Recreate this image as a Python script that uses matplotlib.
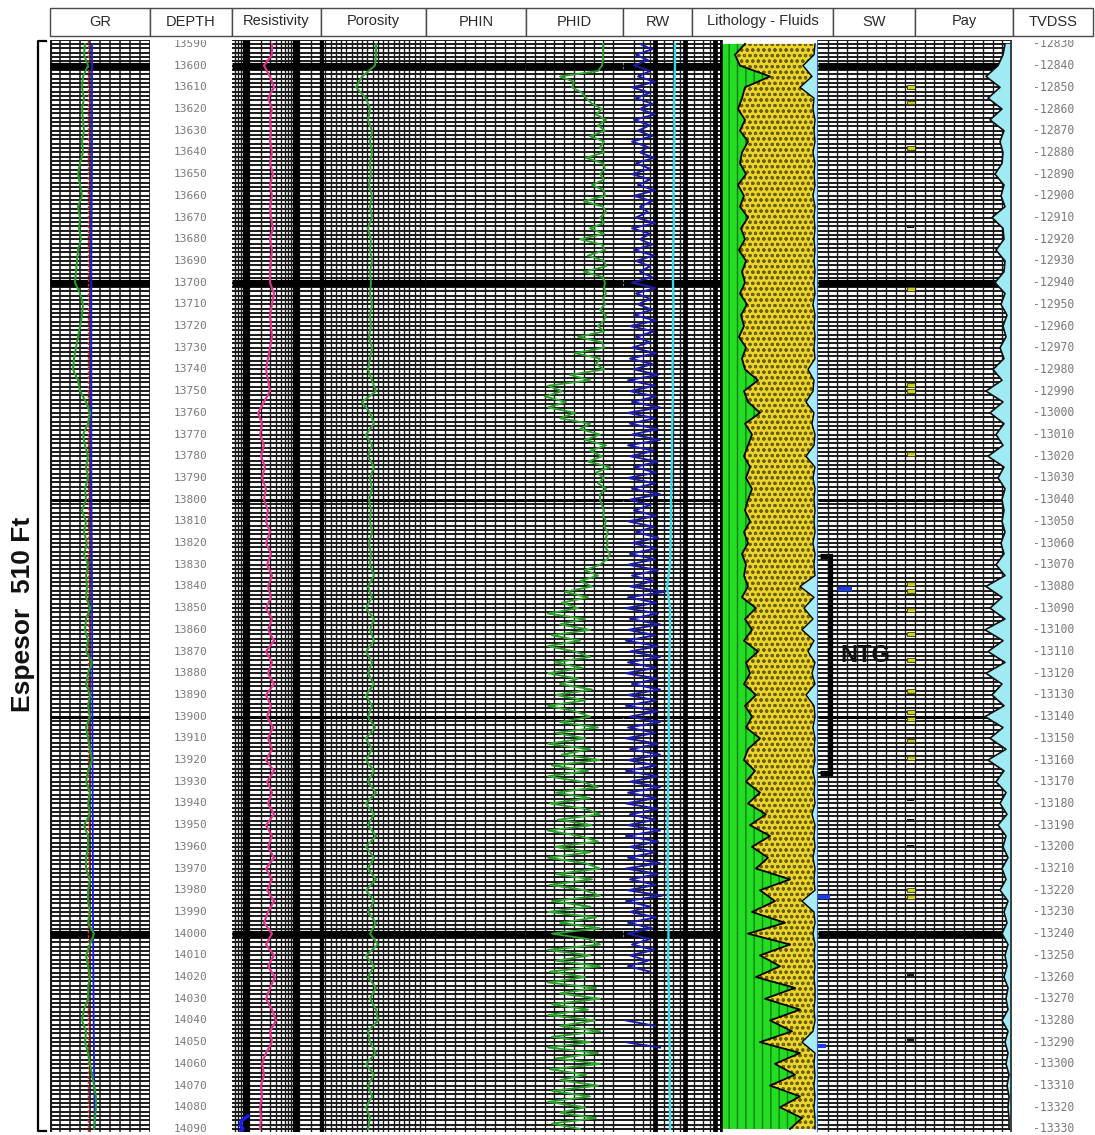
import numpy as np
import matplotlib
matplotlib.use("Agg")
import matplotlib.pyplot as plt
from matplotlib.patches import Rectangle
from matplotlib.lines import Line2D
from matplotlib.ticker import NullLocator

# ------------------------------------------------------------------ data
depth5 = np.arange(13590, 14090.1, 5.0)      # 101 samples
depth25 = np.arange(13590, 14090.1, 2.5)     # 201 samples
depth10 = np.arange(13590, 14090.1, 10.0)    # 51 samples
depth50 = np.arange(13590, 14090.1, 50.0)    # 11 samples

track_titles = ["GR", "DEPTH", "Resistivity", "Porosity", "PHIN", "PHID", "RW",
                "Lithology - Fluids", "SW", "Pay", "TVDSS"]
depth_labels = list(range(13590, 14091, 10))
tvdss_labels = list(range(-12830, -13331, -10))

gr = [52.5, 51, 57, 49.5, 48, 51, 48, 49.5, 51, 48, 49.5,
      45, 42, 45, 48, 42, 45, 43.5, 46.5, 42, 40.5, 39,
      37.5, 45, 49.5, 48, 45, 42, 39, 36, 34.5, 42, 45,
      54, 60, 57, 49.5, 52.5, 57, 54, 57, 52.5, 54, 48,
      54, 51, 55.5, 51, 57, 54, 55.5, 54, 60, 54, 52.5,
      57, 54, 63, 57, 54, 60, 57, 60, 54, 57, 60,
      63, 57, 54, 60, 57, 60, 51, 57, 57, 54, 54,
      60, 57, 57, 60, 57, 66, 60, 54, 57, 60, 57,
      57, 51, 48, 54, 52.5, 57, 60, 63, 66, 69, 69,
      67.5, 66]
gr_baseline = [63, 63, 62, 62, 62, 63, 63.5, 64, 64.5, 65.5, 67]
gr_cutoff = 57

resistivity = [3.31, 3.31, 2.29, 3.02, 3.63, 2.75, 3.31, 3.02, 3.16, 3.02, 3.31,
               3.02, 3.47, 3.02, 3.31, 3.02, 3.16, 3.47, 3.02, 3.31, 3.16, 3.02,
               3.02, 3.63, 3.31, 3.02, 3.16, 3.31, 3.02, 2.75, 2.51, 2.75, 3.02,
               2.29, 1.74, 2.09, 1.91, 2.29, 2.00, 2.40, 2.09, 2.51, 2.29, 2.75,
               2.51, 3.02, 2.51, 3.16, 2.63, 3.31, 2.75, 3.16, 2.51, 3.31, 2.75,
               3.63, 2.51, 3.31, 2.75, 3.63, 2.51, 3.16, 2.63, 3.47, 2.75, 3.31,
               2.51, 3.63, 2.63, 3.31, 2.75, 3.63, 2.51, 3.31, 2.75, 3.63, 2.51,
               3.31, 2.63, 3.63, 2.75, 2.29, 3.31, 2.51, 3.63, 2.75, 3.80, 3.02,
               2.51, 3.31, 3.98, 3.02, 3.31, 2.51, 2.09, 2.29, 2.00, 2.09, 1.91,
               2.00, 1.91]
res_aux_depth = [14084, 14086, 14088, 14090, 14091]
res_aux = [1.10, 0.83, 0.76, 0.87, 0.79]

porosity = [0.196, 0.196, 0.20, 0.252, 0.276, 0.236, 0.22, 0.228, 0.212, 0.22, 0.212,
            0.22, 0.216, 0.224, 0.212, 0.22, 0.212, 0.228, 0.216, 0.22, 0.212, 0.22,
            0.216, 0.22, 0.212, 0.22, 0.216, 0.224, 0.212, 0.22, 0.228, 0.212, 0.196,
            0.252, 0.22, 0.204, 0.236, 0.212, 0.228, 0.204, 0.22, 0.212, 0.224, 0.216,
            0.22, 0.212, 0.224, 0.216, 0.22, 0.204, 0.228, 0.212, 0.236, 0.204, 0.22,
            0.204, 0.236, 0.212, 0.228, 0.204, 0.236, 0.212, 0.228, 0.20, 0.236, 0.212,
            0.236, 0.204, 0.228, 0.196, 0.236, 0.204, 0.228, 0.196, 0.236, 0.204, 0.228,
            0.196, 0.236, 0.204, 0.228, 0.196, 0.22, 0.188, 0.236, 0.204, 0.228, 0.196,
            0.22, 0.196, 0.188, 0.228, 0.22, 0.196, 0.236, 0.204, 0.228, 0.212, 0.236,
            0.22, 0.228]

phid = [.10, .10, .10, .10, .105, .125, .315, .245, .255, .205, .185, .155,
        .105, .135, .085, .125, .09, .165, .095, .115, .095, .185, .10, .09,
        .115, .095, .155, .095, .09, .195, .10, .085, .115, .095, .165, .095,
        .215, .105, .09, .175, .095, .085, .195, .10, .09, .095, .085, .10,
        .09, .115, .085, .095, .125, .095, .225, .105, .095, .24, .115, .135,
        .095, .265, .165, .375, .305, .39, .285, .375, .24, .315, .165, .215,
        .115, .19, .085, .165, .105, .175, .065, .135, .095, .125, .085, .115,
        .115, .105, .095, .10, .085, .095, .075, .085, .075, .085, .065, .08,
        .115, .19, .125, .215, .155, .29, .175, .305, .225, .375, .19, .315,
        .165, .355, .215, .375, .24, .165, .34, .205, .375, .225, .315, .155,
        .335, .19, .375, .24, .165, .315, .125, .335, .19, .375, .165, .305,
        .115, .355, .175, .375, .205, .125, .335, .165, .365, .19, .115, .325,
        .155, .375, .215, .125, .34, .165, .375, .19, .115, .335, .155, .365,
        .19, .115, .355, .165, .375, .135, .315, .115, .355, .175, .115, .375,
        .165, .335, .115, .365, .19, .375, .135, .315, .115, .355, .175, .375,
        .14, .315, .115, .355, .165, .375, .125, .335, .115, .365, .185, .315,
        .125, .355, .165, .375, .19, .315, .135, .355, .215]

nan = np.nan
rw = [.17, .29, .13, .25, .11, .27, .15, .32, .09, .27, .13, .29,
      .17, .32, .11, .27, .15, .29, .09, .25, .17, .31, .13, .27,
      .09, .27, .15, .32, .11, .29, .17, .25, .13, .32, .09, .27,
      .17, .29, .11, .31, .13, .27, .17, .29, .09, .32, .13, .27,
      .15, .29, .11, .33, .07, .31, .13, .27, .09, .33, .07, .29,
      .11, .35, .05, .32, .07, .33, .09, .37, .05, .32, .07, .35,
      .09, .37, .05, .31, .07, .35, .11, .33, .05, .32, .09, .37,
      .07, .27, .11, .33, .05, .31, .13, .35, .09, .33, .07, .32,
      .05, .35, .09, .31, .07, .42, .05, .33, .03, .35, .07, .37,
      .05, .32, .03, .35, .07, .37, .05, .33, .03, .35, .09, .37,
      .05, .33, .03, .35, .07, .37, .05, .32, .03, .35, .07, .37,
      .05, .33, .03, .35, .07, .37, .05, .33, .03, .35, .07, .32,
      .05, .37, .03, .35, .07, .32, .05, .37, .03, .35, .07, .33,
      .05, .39, .03, .27, .07, .33, .05, .29, .05, .27, .09, .31,
      .07, .25, .05, .27, nan, nan, nan, nan, nan, nan, nan, nan,
      .03, .32, nan, nan, .03, .37, nan, nan, nan, nan, nan, nan,
      nan, nan, nan, nan, nan, nan, nan, nan, nan]

rw_apparent = [.52, .52, .515, .51, .515, .51, .51, .505, .51, .505, .50,
               .50, .505, .50, .50, .495, .50, .495, .49, .49, .485,
               .48, .48, .475, .47, .44, .47, .47, .465, .46, .46,
               .455, .46, .455, .45, .45, .445, .45, .445, .45, .45,
               .455, .45, .455, .46, .46, .465, .47, .465, .47, .47]

vshale = [.25, .15, .20, .50, .25, .22, .18, .25, .20, .28, .22,
          .20, .26, .18, .24, .20, .28, .21, .25, .19, .26, .22,
          .25, .20, .27, .21, .24, .19, .26, .22, .25, .38, .24,
          .28, .40, .25, .32, .28, .24, .30, .26, .32, .28, .25,
          .30, .24, .28, .22, .26, .24, .28, .22, .36, .25, .32,
          .24, .38, .26, .30, .24, .36, .25, .32, .26, .40, .28,
          .24, .35, .26, .40, .28, .46, .30, .50, .32, .48, .36,
          .70, .40, .55, .32, .65, .28, .70, .40, .60, .36, .75,
          .45, .80, .50, .72, .40, .80, .55, .75, .50, .80, .60,
          .82, .70]

matrix_edge = [.95, .94, .83, .92, .80, .94, .93, .95, .94, .95, .93,
               .95, .94, .95, .93, .95, .94, .95, .94, .95, .94, .95,
               .94, .95, .93, .95, .94, .95, .94, .95, .88, .94, .93,
               .86, .94, .92, .95, .94, .86, .95, .93, .95, .94, .95,
               .94, .95, .93, .95, .94, .95, .80, .94, .84, .93, .82,
               .94, .88, .95, .92, .95, .86, .94, .95, .93, .95, .94,
               .95, .93, .95, .94, .95, .92, .95, .94, .95, .93, .95,
               .94, .95, .82, .94, .95, .93, .95, .94, .95, .94, .95,
               .95, .94, .95, .93, .82, .95, .94, .95, .94, .95, .94,
               .95, .95]

bvw = [.035, .045, .07, .13, .06, .12, .05, .11, .04, .06, .045,
       .05, .085, .04, .055, .035, .10, .045, .04, .08, .035, .04,
       .085, .035, .055, .025, .045, .03, .06, .04, .095, .05, .13,
       .045, .11, .04, .08, .045, .12, .04, .07, .035, .05, .04,
       .05, .035, .055, .04, .08, .035, .13, .05, .11, .035, .135,
       .045, .12, .035, .13, .05, .10, .04, .135, .045, .11, .03,
       .12, .04, .08, .03, .06, .025, .07, .03, .045, .02, .05,
       .03, .06, .02, .04, .025, .05, .02, .035, .025, .04, .02,
       .03, .02, .05, .02, .035, .02, .03, .015, .025, .015, .02,
       .015, .015]

sw_flag_depth = [13841, 13983, 14052]
sw_flag_lo = [0.20, 0.00, 0.00]
sw_flag_hi = [0.34, 0.12, 0.08]

pay_flags = [13610, 13617, 13638, 13703, 13747, 13750, 13779, 13839, 13842, 13851,
             13862, 13874, 13888, 13898, 13901, 13911, 13919, 13980, 13983]
pay_dark_flags = [13674, 13938, 13948, 13960, 14019, 14049]

ntg_top, ntg_base = 13826, 13926
espesor_text = "Espesor  510 Ft"

# ------------------------------------------------------------------ figure
W, H = 1095, 1135
fig = plt.figure(figsize=(W / 100, H / 100), dpi=100)
fig.patch.set_facecolor("white")
SANS = ["Liberation Sans", "DejaVu Sans"]

TOP_D, BASE_D = 13588.2, 14091.4
Y0, Y1 = 40, 1132


def clean(ax):
    ax.xaxis.set_major_locator(NullLocator())
    ax.xaxis.set_minor_locator(NullLocator())
    ax.yaxis.set_major_locator(NullLocator())
    ax.yaxis.set_minor_locator(NullLocator())
    ax.patch.set_alpha(0)
    for s in ax.spines.values():
        s.set_visible(False)


def px_axes(x0, x1, log=False):
    ax = fig.add_axes([x0 / W, 1 - Y1 / H, (x1 - x0) / W, (Y1 - Y0) / H])
    if log:
        ax.set_xscale("log")
    ax.set_ylim(BASE_D, TOP_D)
    clean(ax)
    return ax


grid_d = np.arange(13588, 14093, 2)


def hgrid(ax):
    tr = ax.get_yaxis_transform()
    ax.hlines(grid_d, 0, 1, transform=tr, colors="#1a1a1a", lw=1.4, zorder=1)
    ax.hlines([13600, 13700, 14000], 0, 1, transform=tr, colors="black", lw=5.2, zorder=1.2)
    ax.hlines([13800, 13900], 0, 1, transform=tr, colors="black", lw=2.2, zorder=1.2)


def vgrid(ax, xs, lw=1.1, color="#1a1a1a"):
    ax.vlines(xs, 0, 1, transform=ax.get_xaxis_transform(), colors=color, lw=lw, zorder=1.1)


def log_minor(lo_exp, hi_exp, ks=range(2, 10)):
    out = []
    for e in range(lo_exp, hi_exp + 1):
        for k in ks:
            out.append(k * 10.0 ** e)
    return out


# GR track
ax_gr = px_axes(50, 150)
ax_gr.set_xlim(0, 150)
hgrid(ax_gr)
vgrid(ax_gr, np.arange(15, 150, 15))
vgrid(ax_gr, [0.6], lw=3)
vgrid(ax_gr, [149.5], lw=1.2)
ax_gr.axvline(gr_cutoff, color="#ee2222", lw=1.0, ls=(0, (2, 1.5)), zorder=3)
ax_gr.plot(gr_baseline, depth50, color="#1a1aee", lw=1.3, zorder=3)
ax_gr.plot(gr, depth5, color="#22a022", lw=1.4, zorder=4)

# depth track
ax_d = px_axes(150, 232)
ax_d.set_xlim(0, 1)
for d in depth_labels:
    ax_d.text(0.5, d, str(d), ha="center", va="center", fontsize=8,
              family="DejaVu Sans Mono", color="#7a7a7a", clip_on=True)

# resistivity (log)
ax_r = px_axes(232, 320, log=True)
ax_r.set_xlim(10 ** -0.28, 10 ** 1.48)
hgrid(ax_r)
vgrid(ax_r, [v for v in log_minor(-1, 1) if 10 ** -0.28 < v < 10 ** 1.48], lw=1.0)
vgrid(ax_r, [1, 10], lw=5.2, color="black")
ax_r.plot(resistivity, depth5, color="#e8308c", lw=1.5, zorder=3)
ax_r.plot(res_aux, res_aux_depth, color="#1a1aee", lw=2.5, zorder=3)

# porosity
ax_p = px_axes(320, 425)
ax_p.set_xlim(0.42, 0)
hgrid(ax_p)
vgrid(ax_p, np.linspace(0, 0.42, 21)[1:-1], lw=1.0)
vgrid(ax_p, [0.415], lw=3.5, color="black")
ax_p.plot(porosity, depth5, color="#2ea02e", lw=1.4, zorder=3)

# PHIN
ax_n = px_axes(425, 525)
ax_n.set_xlim(0.45, -0.15)
hgrid(ax_n)
vgrid(ax_n, np.linspace(-0.15, 0.45, 11), lw=1.0)

# PHID
ax_dd = px_axes(525, 623)
ax_dd.set_xlim(0.49, 0)
hgrid(ax_dd)
vgrid(ax_dd, np.linspace(0, 0.49, 11)[1:], lw=1.0)
ax_dd.plot(phid, depth25, color="#2ea02e", lw=1.35, zorder=3)

# RW track (log grid + linear curve scale)
ax_w = px_axes(623, 720, log=True)
ax_w.set_xlim(10 ** -2.067, 10 ** 1.167)
hgrid(ax_w)
vgrid(ax_w, [v for v in log_minor(-2, 1, ks=(2, 4, 7)) if 10 ** -2.067 < v < 10 ** 1.167], lw=1.0)
vgrid(ax_w, [0.1, 1, 10], lw=3.4, color="black")
ax_w2 = ax_w.twiny()
ax_w2.set_ylim(BASE_D, TOP_D)
ax_w2.set_xlim(0, 0.97)
clean(ax_w2)
ax_w2.plot(rw_apparent, depth10, color="#38d8e8", lw=1.7, zorder=3)
ax_w2.plot(rw, depth25, color="#1c1ca8", lw=1.4, zorder=4)

# lithology - fluids
ax_l = px_axes(720, 818)
ax_l.set_xlim(0, 0.98)
with plt.rc_context({"hatch.linewidth": 1.0}):
    ax_l.fill_betweenx(depth5, 0, vshale, facecolor="#22de22", edgecolor="#0c7d0c",
                       hatch="||", lw=0, zorder=2)
with plt.rc_context({"hatch.linewidth": 0.8}):
    ax_l.fill_betweenx(depth5, vshale, matrix_edge, facecolor="#ead62a",
                       edgecolor="#6e5e00", hatch="ooo", lw=0, zorder=2)
ax_l.fill_betweenx(depth5, matrix_edge, 0.98, facecolor="#a6ecf4", lw=0, zorder=2)
ax_l.plot(vshale, depth5, color="black", lw=1.3, zorder=3)
ax_l.plot(matrix_edge, depth5, color="black", lw=1.0, zorder=3)
ax_l.axvline(0.005, color="black", lw=2.6, zorder=4)
ax_l.axvline(0.975, color="#2a36c8", lw=1.2, zorder=4)

# SW track
ax_s = px_axes(818, 915)
ax_s.set_xlim(0, 0.97)
hgrid(ax_s)
vgrid(ax_s, np.linspace(0, 0.97, 11)[1:], lw=1.0)
ax_s.hlines(sw_flag_depth, sw_flag_lo, sw_flag_hi, colors="#1a3cf0", lw=3, zorder=4)
ax_s.barh(pay_flags, 0.08, left=0.885, height=1.8, color="#c8d020",
          edgecolor="#3c4000", lw=0.6, zorder=4)
ax_s.barh(pay_dark_flags, 0.07, left=0.89, height=1.3, color="#1c1c1c", lw=0, zorder=4)
ax_s.plot([0.02, 0.12, 0.12, 0.02], [ntg_top, ntg_top, ntg_base, ntg_base],
          color="black", lw=3.8, solid_joinstyle="miter", solid_capstyle="butt", zorder=6)
ax_s.text(0.22, 13872, "NTG", fontsize=17, weight="bold", family=SANS,
          ha="left", va="center", color="#111", zorder=6)

# Pay track
ax_y = px_axes(915, 1012)
ax_y.set_xlim(0.485, 0)
hgrid(ax_y)
vgrid(ax_y, np.linspace(0, 0.485, 11)[1:], lw=1.0)
ax_y.fill_betweenx(depth5, bvw, 0, facecolor="#a0eaf4", lw=0, zorder=2)
ax_y.plot(bvw, depth5, color="#111", lw=1.2, zorder=3)
ax_y.axvline(0.003, color="#333", lw=1.3, zorder=3)

# TVDSS track
ax_t = px_axes(1012, 1093)
ax_t.set_xlim(0, 1)
for d, t in zip(depth_labels, tvdss_labels):
    ax_t.text(0.52, d, str(t), ha="center", va="center", fontsize=8.3,
              family="DejaVu Sans Mono", color="#7a7a7a", clip_on=True)

# header boxes
edges = [50, 150, 232, 321, 426, 526, 623, 692, 833, 915, 1013, 1093]
for i, title in enumerate(track_titles):
    x0, x1 = edges[i], edges[i + 1]
    fig.add_artist(Rectangle((x0 / W, 1 - 36 / H), (x1 - x0) / W, 28 / H,
                             transform=fig.transFigure, facecolor="white",
                             edgecolor="#4a4a4a", lw=1.0))
    fig.text((x0 + x1) / 2 / W, 1 - 21.5 / H, title, ha="center", va="center",
             fontsize=10.5, family=SANS, color="#2a2a2a")

# thickness bracket + label
bx = [46, 38.5, 38.5, 46]
by = [41, 41, 1131, 1131]
fig.add_artist(Line2D([x / W for x in bx], [1 - y / H for y in by],
                      transform=fig.transFigure, color="black", lw=1.6))
fig.text(23 / W, 1 - 614 / H, espesor_text, rotation=90, ha="center", va="center",
         fontsize=19, weight="bold", family=SANS, color="#111")

fig.savefig("out.png", dpi=100, facecolor="white")
